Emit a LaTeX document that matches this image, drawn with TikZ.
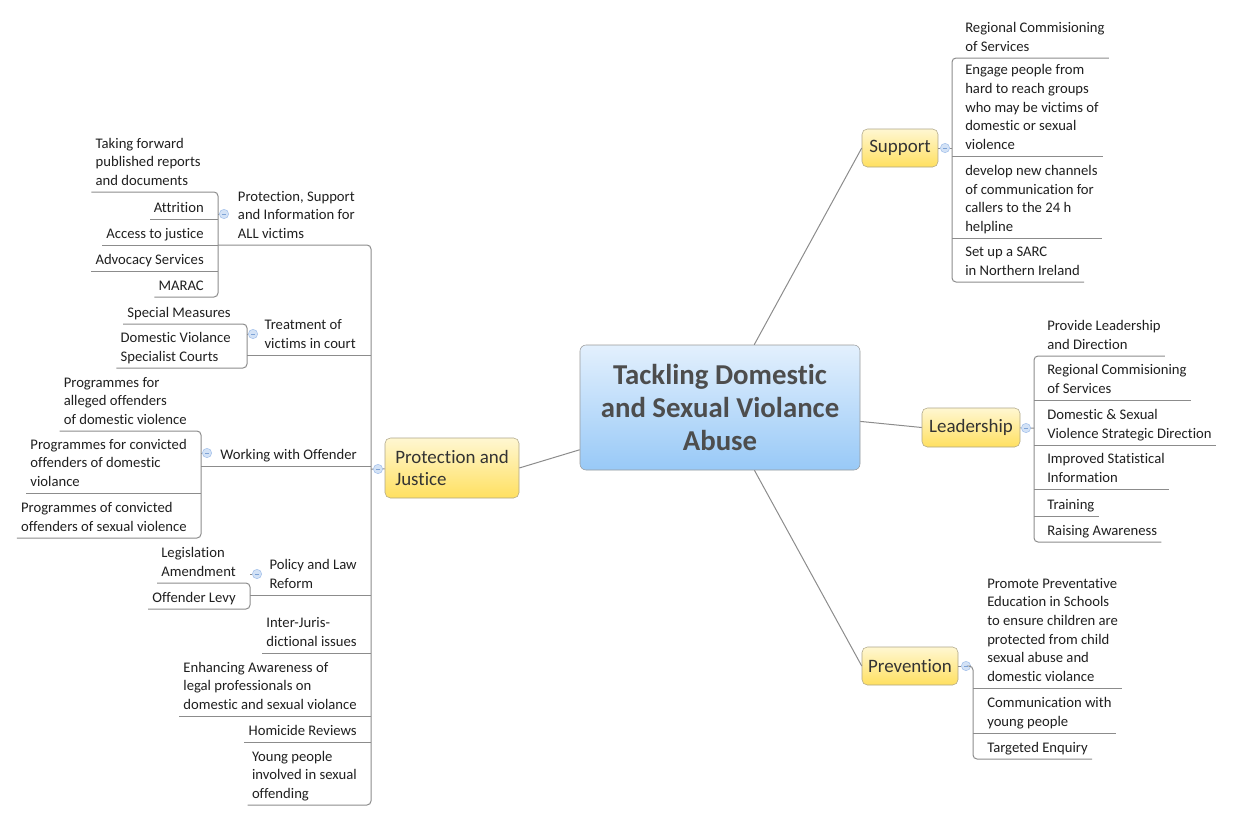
\documentclass[tikz,border=0pt]{standalone}
\usepackage{fontspec}
\setmainfont{Carlito}[Ligatures=NoCommon]
\usepackage{tikz}

\definecolor{blueTop}{HTML}{E3F0FD}
\definecolor{blueBot}{HTML}{98C9F7}
\definecolor{yellowTop}{HTML}{FFF7D2}
\definecolor{yellowBot}{HTML}{FFE060}
\definecolor{topicBorder}{HTML}{ADA587}
\definecolor{coreText}{HTML}{4D4D4D}
\definecolor{topicText}{HTML}{333333}
\definecolor{leafText}{HTML}{1F1F1F}
\definecolor{lineGray}{HTML}{8C8C8C}
\definecolor{toggleFill}{HTML}{D3E2F6}
\definecolor{toggleBorder}{HTML}{A3C0EA}
\definecolor{toggleMinus}{HTML}{7EA3D6}

\begin{document}
\begin{tikzpicture}[
    x=0.75pt, y=-0.75pt,
    core/.style={draw=black!40, rounded corners=4.5pt, top color=blueTop, bottom color=blueBot,
        minimum width=210pt, minimum height=93.75pt, align=center, text=coreText,
        font=\fontsize{21.6}{25}\selectfont\bfseries},
    topic/.style={draw=topicBorder, rounded corners=4pt, top color=yellowTop, bottom color=yellowBot,
        inner sep=0pt, text=topicText, font=\fontsize{14.2}{17.2}\selectfont},
    leaf/.style={align=left, inner xsep=3pt, inner ysep=0.8pt, text=leafText,
        font=\fontsize{11}{13.9}\selectfont, execute at end node=\strut},
    branch/.style={draw=lineGray, line width=0.75pt, rounded corners=3pt},
    link/.style={draw=lineGray, line width=0.75pt},
    toggle/.style={circle, draw=toggleBorder, fill=toggleFill, minimum size=7pt, inner sep=0pt,
        path picture={\draw[toggleMinus, line width=0.6pt]
            ([xshift=-1.6pt]path picture bounding box.center) -- ([xshift=1.6pt]path picture bounding box.center);}}
]
    \useasboundingbox (0,0) rectangle (1235,821);

    % central and main topics
    \node[core] (core) at (720,407.5) {Tackling Domestic\\and Sexual Violance\\Abuse};
    \node[topic, minimum width=57pt, minimum height=28.5pt] (sup) at (900,148) {Support};
    \node[topic, minimum width=73.5pt, minimum height=29.25pt] (lead) at (971,427.5) {Leadership};
    \node[topic, minimum width=72pt, minimum height=28.5pt] (prev) at (910,666) {Prevention};
    \node[topic, minimum width=100.5pt, minimum height=45pt, align=left] (prot) at (452,468) {Protection and\\Justice};

    \draw[link] (core) -- (sup.west);
    \draw[link] (core) -- (lead.west);
    \draw[link] (core) -- (prev.west);
    \draw[link] (core) -- (prot.east);

    % toggles and bracket points
    \node[toggle] (supT) at (945,148) {};
    \node[toggle] (leadT) at (1026,428) {};
    \node[toggle] (prevT) at (966,666) {};
    \node[toggle] (protT) at (378,469) {};
    \node[toggle] (aT) at (224,214) {};
    \node[toggle] (bT) at (253,334) {};
    \node[toggle] (cT) at (207,453) {};
    \node[toggle] (dT) at (257,574) {};
    \coordinate (supV) at (952,148);
    \coordinate (leadV) at (1034,428);
    \coordinate (prevV) at (973,666);
    \coordinate (protV) at (371,469);
    \coordinate (aV) at (218,214);
    \coordinate (bV) at (247,334);
    \coordinate (cV) at (201,453);
    \coordinate (dV) at (250,574);

    % Support
    \node[leaf, anchor=south west] (sup1) at (961,58) {Regional Commisioning\\of Services};
    \node[leaf, anchor=south west] (sup2) at (961,156) {Engage people from\\hard to reach groups\\who may be victims of\\domestic or sexual\\violence};
    \node[leaf, anchor=south west] (sup3) at (961,238) {develop new channels\\of communication for\\callers to the 24 h\\helpline};
    \node[leaf, anchor=south west] (sup4) at (961,282) {Set up a SARC\\in Northern Ireland};
    \draw[branch] (sup1.south east) -- (sup1.south west -| supV) -- (sup4.south west -| supV) -- (sup4.south east);
    \foreach \n in {sup2,sup3} \draw[branch] (\n.south west -| supV) -- (\n.south east);
    \draw[link] (sup) -- (supT) -- (supV);

    % Leadership
    \node[leaf, anchor=south west] (lead1) at (1043,356) {Provide Leadership\\and Direction};
    \node[leaf, anchor=south west] (lead2) at (1043,400) {Regional Commisioning\\of Services};
    \node[leaf, anchor=south west] (lead3) at (1043,445) {Domestic \& Sexual\\Violence Strategic Direction};
    \node[leaf, anchor=south west] (lead4) at (1043,489) {Improved Statistical\\Information};
    \node[leaf, anchor=south west] (lead5) at (1043,516) {Training};
    \node[leaf, anchor=south west] (lead6) at (1043,542) {Raising Awareness};
    \draw[branch] (lead1.south east) -- (lead1.south west -| leadV) -- (lead6.south west -| leadV) -- (lead6.south east);
    \foreach \n in {lead2,lead3,lead4,lead5} \draw[branch] (\n.south west -| leadV) -- (\n.south east);
    \draw[link] (lead) -- (leadT) -- (leadV);

    % Prevention
    \node[leaf, anchor=south west] (prev1) at (983,688) {Promote Preventative\\Education in Schools\\to ensure children are\\protected from child\\sexual abuse and\\domestic violance};
    \node[leaf, anchor=south west] (prev2) at (983,733) {Communication with\\young people};
    \node[leaf, anchor=south west] (prev3) at (983,759) {Targeted Enquiry};
    \draw[branch] (prevT) -- (prevV) -- (prev3.south west -| prevV) -- (prev3.south east);
    \foreach \n in {prev1,prev2} \draw[branch] (\n.south west -| prevV) -- (\n.south east);
    \draw[link] (prev) -- (prevT);

    % Protection and Justice
    \node[leaf, anchor=south east] (prot1) at (359,245) {Protection, Support\\and Information for\\ALL victims};
    \node[leaf, anchor=south east] (prot2) at (360,355) {Treatment of\\victims in court};
    \node[leaf, anchor=south east] (prot3) at (361,466) {Working with Offender};
    \node[leaf, anchor=south east] (prot4) at (361,595) {Policy and Law\\Reform};
    \node[leaf, anchor=south east] (prot5) at (361,653) {Inter-Juris-\\dictional issues};
    \node[leaf, anchor=south east] (prot6) at (361,716) {Enhancing Awareness of\\legal professionals on\\domestic and sexual violance};
    \node[leaf, anchor=south east] (prot7) at (361,742) {Homicide Reviews};
    \node[leaf, anchor=south east] (prot8) at (361,805) {Young people\\involved in sexual\\offending};
    \draw[branch] (prot1.south west -| aV) -- (prot1.south east -| protV) -- (prot8.south east -| protV) -- (prot8.south west);
    \draw[branch] (prot2.south east -| protV) -- (prot2.south west -| bV);
    \draw[branch] (prot3.south east -| protV) -- (prot3.south west -| cV);
    \draw[branch] (prot4.south east -| protV) -- (prot4.south west -| dV);
    \foreach \n in {prot5,prot6,prot7} \draw[branch] (\n.south east -| protV) -- (\n.south west);
    \draw[link] (prot) -- (protT) -- (protV);

    % victims
    \node[leaf, anchor=south east] (pa1) at (205,192) {Taking forward\\published reports\\and documents};
    \node[leaf, anchor=south east] (pa2) at (208,219) {Attrition};
    \node[leaf, anchor=south east] (pa3) at (208,245) {Access to justice};
    \node[leaf, anchor=south east] (pa4) at (208,271) {Advocacy Services};
    \node[leaf, anchor=south east] (pa5) at (208,297) {MARAC};
    \draw[branch] (pa1.south west) -- (pa1.south east -| aV) -- (pa5.south east -| aV) -- (pa5.south west);
    \foreach \n in {pa2,pa3,pa4} \draw[branch] (\n.south east -| aV) -- (\n.south west);
    \draw[link] (aT) -- (aV);

    % court
    \node[leaf, anchor=south east] (pb1) at (235,324) {Special Measures};
    \node[leaf, anchor=south east] (pb2) at (235,368) {Domestic Violance\\Specialist Courts};
    \draw[branch] (pb1.south west) -- (pb1.south east -| bV) -- (pb2.south east -| bV) -- (pb2.south west);
    \draw[link] (bT) -- (bV);

    % offenders
    \node[leaf, anchor=south east] (pc1) at (191,431) {Programmes for\\alleged offenders\\of domestic violence};
    \node[leaf, anchor=south east] (pc2) at (191,493) {Programmes for convicted\\offenders of domestic\\violance};
    \node[leaf, anchor=south east] (pc3) at (191,538) {Programmes of convicted\\offenders of sexual violence};
    \draw[branch] (pc1.south west) -- (pc1.south east -| cV) -- (pc3.south east -| cV) -- (pc3.south west);
    \draw[branch] (pc2.south east -| cV) -- (pc2.south west);
    \draw[link] (cT) -- (cV);

    % law reform
    \node[leaf, anchor=south east] (pd1) at (240,583) {Legislation\\Amendment};
    \node[leaf, anchor=south east] (pd2) at (240,609) {Offender Levy};
    \draw[branch] (pd1.south west) -- (pd1.south east -| dV) -- (pd2.south east -| dV) -- (pd2.south west);
    \draw[link] (dT) -- (dV);
\end{tikzpicture}
\end{document}
